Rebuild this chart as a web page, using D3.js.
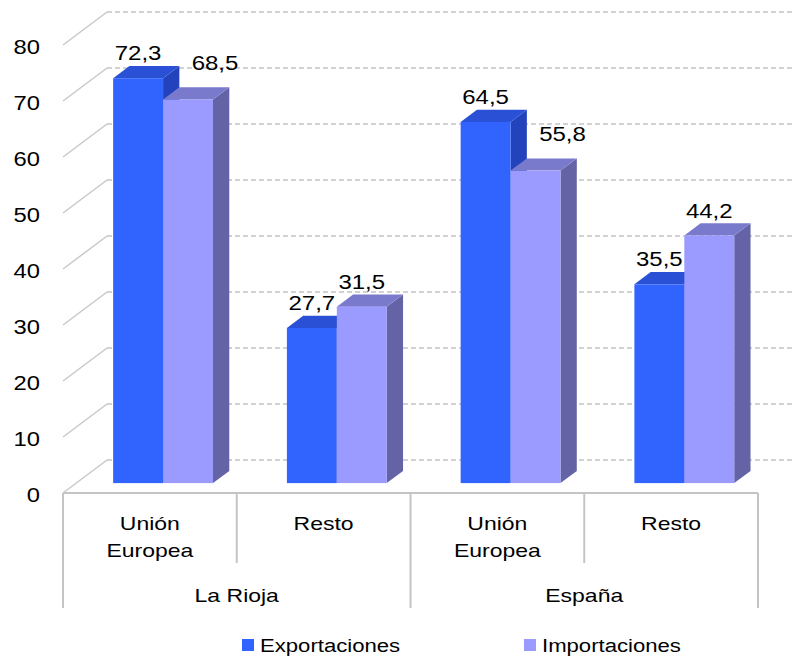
<!DOCTYPE html>
<html>
<head>
<meta charset="utf-8">
<script src="https://cdn.jsdelivr.net/npm/d3@7"></script>
<style>
  html, body { margin: 0; padding: 0; background: #fff; }
  svg { display: block; font-family: "Liberation Sans", Arial, sans-serif; }
</style>
</head>
<body>
<svg id="chart" width="792" height="656"></svg>
<script>
// data
var groups = ["La Rioja", "España"];
var categories = ["Unión Europea", "Resto"];
var series = ["Exportaciones", "Importaciones"];
var exportaciones = [72.3, 27.7, 64.5, 35.5];
var importaciones = [68.5, 31.5, 55.8, 44.2];
var yTicks = [0, 10, 20, 30, 40, 50, 60, 70, 80];

var colors = {
  Exportaciones: { front: "#3163ff", top: "#2a50d6", side: "#2343bd" },
  Importaciones: { front: "#9a9aff", top: "#7a7acd", side: "#6363a6" }
};

var svg = d3.select("#chart");
var W = +svg.attr("width");

// depth of the floor (front -> back wall)
var depth = { dx: 44, dy: -33 };
var barT0 = 0.3, barT1 = 0.67;   // bars sit inside the floor depth

var rows = [];
groups.forEach(function(g, gi) {
  categories.forEach(function(c, ci) {
    var i = gi * categories.length + ci;
    rows.push({ group: g, cat: c, key: g + "|" + c,
      values: { Exportaciones: exportaciones[i], Importaciones: importaciones[i] } });
  });
});

var x0 = d3.scaleBand().domain(rows.map(function(d) { return d.key; })).range([63, 758]).paddingInner(0);
var x1 = d3.scaleBand().domain(series).range([0, x0.bandwidth()]).paddingInner(0).paddingOuter(0.74);
var y = d3.scaleLinear().domain([0, 80]).range([493, 45]);

var sx = 1.2; // the source text is drawn a bit wide
function label(parent, x, yy, txt, size, anchor, scale) {
  return parent.append("text")
    .attr("transform", "translate(" + x + "," + yy + ") scale(" + (scale || sx) + ",1)")
    .attr("text-anchor", anchor || "middle")
    .attr("font-size", size)
    .attr("fill", "#000")
    .text(txt);
}

// grid: diagonal on the left side wall + dashed line on the back wall
var grid = svg.append("g");
yTicks.forEach(function(t) {
  var fx = x0.range()[0], fy = y(t);
  grid.append("line")
    .attr("x1", fx).attr("y1", fy)
    .attr("x2", fx + depth.dx).attr("y2", fy + depth.dy)
    .attr("stroke", "#c9c9c9").attr("stroke-width", 1.5);
  grid.append("line")
    .attr("x1", fx + depth.dx).attr("y1", fy + depth.dy)
    .attr("x2", W).attr("y2", fy + depth.dy)
    .attr("stroke", "#c4c4c4").attr("stroke-width", 1.6)
    .attr("stroke-dasharray", "5,3");
  label(svg, 40, fy + 8.5, t, 19.5, "end", 1.22);
});

// floor front edge and separators
var axis = svg.append("g").attr("stroke", "#c4c4c4").attr("stroke-width", 2);
axis.append("line").attr("x1", x0.range()[0]).attr("x2", x0.range()[1]).attr("y1", y(0)).attr("y2", y(0));
rows.forEach(function(d, i) {
  var left = x0(d.key);
  var isGroupEdge = i % categories.length === 0;
  axis.append("line").attr("x1", left).attr("x2", left).attr("y1", y(0)).attr("y2", isGroupEdge ? 608 : 563);
});
axis.append("line").attr("x1", x0.range()[1]).attr("x2", x0.range()[1]).attr("y1", y(0)).attr("y2", 608);

// bars
var bars = svg.append("g");
var dx0 = depth.dx * barT0, dy0 = depth.dy * barT0;
var bdx = depth.dx * (barT1 - barT0), bdy = depth.dy * (barT1 - barT0);
var labels = [];
rows.forEach(function(d) {
  series.forEach(function(s) {
    var v = d.values[s];
    var xl = x0(d.key) + x1(s) + dx0, xr = xl + x1.bandwidth();
    var yb = y(0) + dy0, yt = y(v) + dy0;
    var c = colors[s];
    bars.append("path")
      .attr("d", "M" + xr + "," + yt + "L" + (xr + bdx) + "," + (yt + bdy) + "L" + (xr + bdx) + "," + (yb + bdy) + "L" + xr + "," + yb + "Z")
      .attr("fill", c.side);
    bars.append("path")
      .attr("d", "M" + xl + "," + yt + "L" + (xl + bdx) + "," + (yt + bdy) + "L" + (xr + bdx) + "," + (yt + bdy) + "L" + xr + "," + yt + "Z")
      .attr("fill", c.top);
    bars.append("rect")
      .attr("x", xl).attr("y", yt).attr("width", x1.bandwidth()).attr("height", yb - yt)
      .attr("fill", c.front);
    var cx = (xl + xr) / 2, by = yt - 18;
    // label of a lower import bar would hit the export bar: push it right
    if (s === "Importaciones" && d.values.Exportaciones > v) { cx += 27; by = yt - 30; }
    labels.push({ x: cx, y: by, t: d3.format(".1f")(v).replace(".", ",") });
  });
});
labels.forEach(function(l) { label(svg, l.x, l.y, l.t, 20.5, "middle", 1.17); });

// category labels
rows.forEach(function(d) {
  var cx = x0(d.key) + x0.bandwidth() / 2;
  var words = d.cat.split(" ");
  words.forEach(function(w, i) { label(svg, cx, 530 + i * 27, w, 19, "middle", 1.21); });
});
// group labels
groups.forEach(function(g) {
  var keys = rows.filter(function(d) { return d.group === g; }).map(function(d) { return d.key; });
  var a = x0(keys[0]), b = x0(keys[keys.length - 1]) + x0.bandwidth();
  label(svg, (a + b) / 2, 602, g, 19, "middle", 1.21);
});

// legend
var legendX = { Exportaciones: 242, Importaciones: 524 };
series.forEach(function(s) {
  svg.append("rect").attr("x", legendX[s]).attr("y", 639).attr("width", 12).attr("height", 12).attr("fill", colors[s].front);
  label(svg, legendX[s] + 18, 652, s, 18, "start", 1.23);
});
</script>
</body>
</html>
